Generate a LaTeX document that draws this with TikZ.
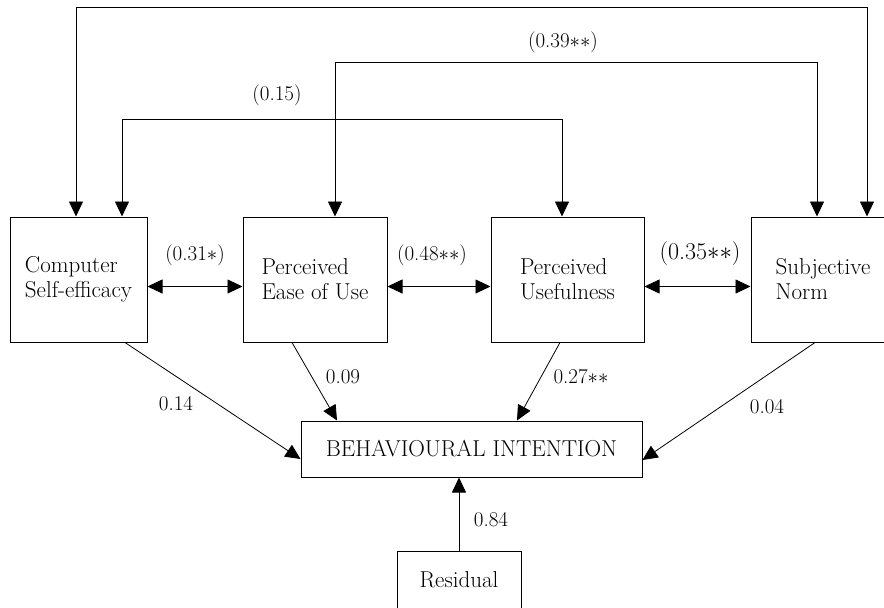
\documentclass[tikz,border=0pt]{standalone}
\usetikzlibrary{arrows.meta}

\begin{document}
\begin{tikzpicture}[x=1pt, y=-1pt, font=\fontsize{21}{25}\selectfont,
    var/.style={draw, line width=1pt, inner sep=0pt, align=left, font=\fontsize{23}{25}\selectfont},
    link/.style={line width=0.8pt, {Triangle[length=15pt,width=14pt]}-{Triangle[length=15pt,width=14pt]}},
    effect/.style={line width=0.8pt, -{Triangle[length=15pt,width=14pt]}}]
    \useasboundingbox (0,0) rectangle (884,608);
    \node[var, minimum width=137pt, minimum height=125pt](cse) at (78.5,279.5) {Computer\\Self-efficacy};
    \node[var, minimum width=144pt, minimum height=125pt](peou) at (315,279.5) {Perceived\\Ease of Use};
    \node[var, minimum width=153pt, minimum height=125pt](pu) at (567.5,279.5) {Perceived\\Usefulness};
    \node[var, minimum width=144pt, minimum height=125pt](sn) at (823,279.5) {Subjective\\Norm};
    \node[var, minimum width=341pt, minimum height=56pt](bi) at (471.5,449) {BEHAVIOURAL INTENTION};
    \node[var, minimum width=124pt, minimum height=58pt](res) at (459,580) {Residual};
    \coordinate (o1) at (76,7);
    \coordinate (o2) at (867,7);
    \coordinate (m1) at (335,62);
    \coordinate (m2) at (817,62);
    \coordinate (i1) at (122,119);
    \coordinate (i2) at (562,119);
    \draw[link](o1 |- cse.north)--(o1)--(o2)--(o2 |- sn.north);
    \draw[link](m1 |- peou.north)--(m1)--(m2)--(m2 |- sn.north);
    \draw[link](i1 |- cse.north)--(i1)--(i2)--(i2 |- pu.north);
    \draw[link]([yshift=-7pt]cse.east)--([yshift=-7pt]peou.west);
    \draw[link]([yshift=-7pt]peou.east)--([yshift=-7pt]pu.west);
    \draw[link]([yshift=-7pt]pu.east)--([yshift=-7pt]sn.west);
    \draw[effect]([xshift=46.5pt]cse.south)--([yshift=-10pt]bi.west);
    \draw[effect]([xshift=-23pt]peou.south)--([xshift=-134.5pt]bi.north);
    \draw[effect]([xshift=-7.5pt]pu.south)--([xshift=45.5pt]bi.north);
    \draw[effect]([xshift=-8pt]sn.south)--([yshift=-11pt]bi.east);
    \draw[effect](res.north)--(res.north |- bi.south);
    \node(l15) at (277,95) {(0.15)};
    \node(l39) at (563,42) {(0.39$*$$*$)};
    \node(l31) at (195,255) {(0.31$*$)};
    \node(l48) at (432,255) {(0.48$*$$*$)};
    \node[font=\fontsize{24}{28}\selectfont](l35) at (700,254) {(0.35$*$$*$)};
    \node(l14) at (176,404) {0.14};
    \node(l09) at (343,377) {0.09};
    \node(l27) at (581,377) {0.27$*$$*$};
    \node(l04) at (767,407) {0.04};
    \node(l84) at (491,520) {0.84};
\end{tikzpicture}
\end{document}
